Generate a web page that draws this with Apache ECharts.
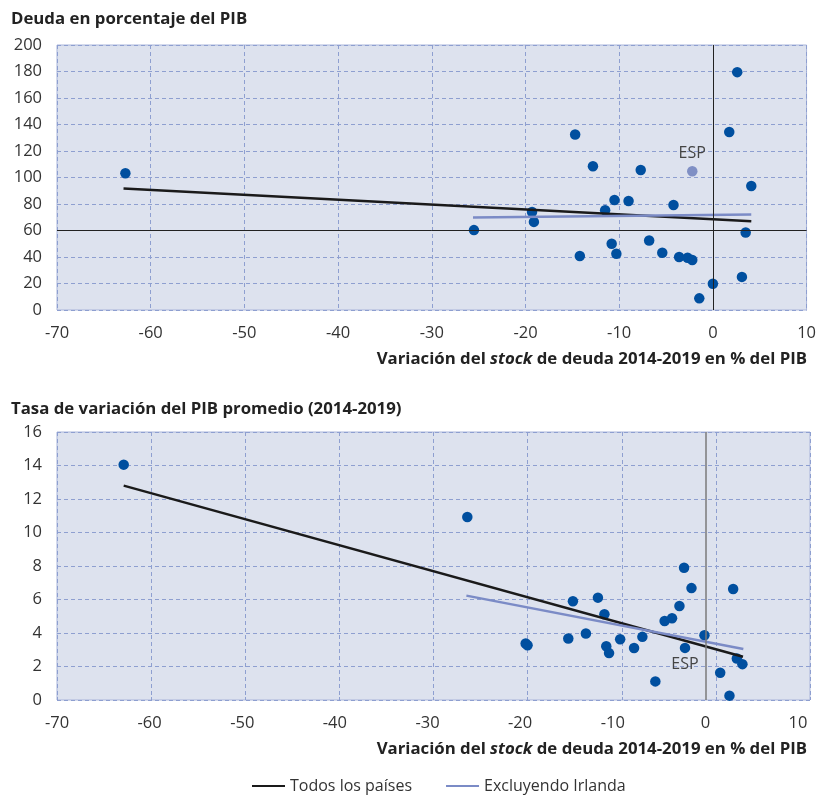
<!DOCTYPE html>
<html><head><meta charset="utf-8">
<script src="https://cdn.jsdelivr.net/npm/echarts@6/dist/echarts.min.js"></script>
<style>html,body{margin:0;padding:0;background:#fff}#c{width:819px;height:796px}</style>
</head><body><div id="c"></div>
<script>
// ---- Data ----
// Top chart: debt stock change (x) vs debt % of GDP (y)
const topX = [-62.7, -25.5, -19.3, -19.1, -14.7, -14.2, -12.8, -11.5, -10.8, -10.5, -10.3, -9.0, -7.7, -6.8, -5.4, -4.2, -3.6, -2.7, -2.2, -1.45, 0.0, 2.6, 1.75, 4.1, 3.5, 3.1];
const topY = [103.2, 60.3, 74.0, 66.5, 132.4, 40.7, 108.5, 75.3, 50.0, 83.0, 42.4, 82.3, 105.7, 52.5, 43.2, 79.3, 40.0, 39.4, 37.7, 8.8, 19.8, 179.5, 134.3, 93.6, 58.5, 25.0];
const espTop = [-2.2, 104.7];
const topTrendAll = [[-62.9, 91.7], [4.1, 67.0]];
const topTrendExIrl = [[-25.6, 69.8], [4.1, 72.1]];
// Bottom chart: debt stock change (x) vs average GDP growth (y)
const botX = [-62.8, -25.7, -19.4, -19.2, -14.8, -14.3, -12.9, -11.6, -10.9, -10.7, -10.4, -9.2, -7.7, -6.8, -5.4, -4.4, -3.6, -2.8, -2.3, -1.5, -0.1, 1.6, 2.6, 3.0, 3.4, 4.0];
const botY = [14.05, 10.93, 3.37, 3.27, 3.67, 5.9, 3.97, 6.11, 5.12, 3.21, 2.8, 3.63, 3.1, 3.77, 1.11, 4.72, 4.88, 5.61, 7.9, 6.68, 3.87, 1.63, 0.26, 6.63, 2.48, 2.14];
const espBot = [-2.2, 3.11];
const botTrendAll = [[-62.8, 12.8], [4.06, 2.58]];
const botTrendExIrl = [[-25.8, 6.23], [4.1, 3.04]];
const xTicks = {min: -70, max: 10, interval: 10};
const topYTicks = {min: 0, max: 200, interval: 20};
const botYTicks = {min: 0, max: 16, interval: 2};
const legendNames = ['Todos los países', 'Excluyendo Irlanda'];
const titles = ['Deuda en porcentaje del PIB', 'Tasa de variación del PIB promedio (2014-2019)'];
const xName = ['Variación del ', 'stock', ' de deuda 2014-2019 en % del PIB'];

// ---- Styles ----
const FONT = '"Open Sans", "Noto Sans", sans-serif';
const PLOT_BG = '#dde2ee';
const GRID_C = '#8e9fd0';
const BORDER_C = '#a9b5da';
const DOT_C = '#004f9f';
const ESP_C = '#7f8fc4';
const BLACK_L = '#1a1a1a';
const BLUE_L = '#7b8bc6';
const BOLD_SIZE = 16.8;

const zip = (xs, ys) => xs.map((x, i) => [x, ys[i]]);
const dashed = {show: true, lineStyle: {color: GRID_C, type: [4, 3], width: 1}};
const lblStyle = {color: '#333', fontSize: 16.5, fontFamily: FONT};
const boldRich = {
  b: {fontSize: BOLD_SIZE, fontWeight: 'bold', color: '#222', fontFamily: FONT},
  i: {fontSize: BOLD_SIZE, fontWeight: 'bold', fontStyle: 'italic', color: '#222', fontFamily: FONT}
};
const xNameText = '{b|' + xName[0] + '}{i|' + xName[1] + '}{b|' + xName[2] + '}';

const chart = echarts.init(document.getElementById('c'), null, {renderer: 'canvas'});

const option = {
  animation: false,
  textStyle: {fontFamily: FONT},
  title: [
    {text: titles[0], left: 6, top: 6, textStyle: {fontSize: BOLD_SIZE, fontWeight: 'bold', color: '#222', fontFamily: FONT}},
    {text: titles[1], left: 6, top: 396, textStyle: {fontSize: BOLD_SIZE, fontWeight: 'bold', color: '#222', fontFamily: FONT}},
    {text: xNameText, right: 7, top: 346, textStyle: {rich: boldRich}},
    {text: xNameText, right: 7, top: 736, textStyle: {rich: boldRich}}
  ],
  legend: {
    top: 773, left: 247, itemWidth: 33, itemHeight: 2, itemGap: 34,
    textStyle: {fontSize: 16, color: '#333', fontFamily: FONT},
    data: [{name: legendNames[0], icon: 'rect'}, {name: legendNames[1], icon: 'rect'}]
  },
  grid: [
    {left: 57, top: 45, width: 754, height: 265, show: true, backgroundColor: PLOT_BG, borderColor: BORDER_C, borderWidth: 1},
    {left: 57, top: 432, width: 753, height: 268, show: true, backgroundColor: PLOT_BG, borderColor: BORDER_C, borderWidth: 1},
    {left: 57, top: 432, width: 741, height: 268, show: false}
  ],
  xAxis: [
    {gridIndex: 0, type: 'value', ...xTicks, axisLine: {show: false}, axisTick: {show: false}, splitLine: dashed,
      axisLabel: {...lblStyle, margin: 15}},
    {gridIndex: 1, type: 'value', ...xTicks, axisLine: {show: false}, axisTick: {show: true, inside: true, length: 3, lineStyle: {color: GRID_C}}, splitLine: dashed,
      axisLabel: {show: false}},
    {gridIndex: 2, type: 'value', ...xTicks, axisLine: {show: false}, axisTick: {show: false}, splitLine: {show: false},
      axisLabel: {...lblStyle, margin: 15}}
  ],
  yAxis: [
    {gridIndex: 0, type: 'value', ...topYTicks, axisLine: {show: false}, axisTick: {show: false}, splitLine: dashed,
      axisLabel: {...lblStyle, margin: 15}},
    {gridIndex: 1, type: 'value', ...botYTicks, axisLine: {show: false}, axisTick: {show: false}, splitLine: dashed,
      axisLabel: {...lblStyle, margin: 15}},
    {gridIndex: 2, type: 'value', ...botYTicks, show: false, splitLine: {show: false}}
  ],
  series: [
    // top chart
    {type: 'scatter', xAxisIndex: 0, yAxisIndex: 0, data: zip(topX, topY), symbolSize: 10.5, itemStyle: {color: DOT_C, opacity: 1}, z: 3,
      markLine: {silent: true, symbol: 'none', label: {show: false}, animation: false,
        lineStyle: {color: '#222', width: 1, type: 'solid'},
        data: [{yAxis: 60}, {xAxis: 0}]}},
    {type: 'scatter', xAxisIndex: 0, yAxisIndex: 0, data: [espTop], symbolSize: 10.5, itemStyle: {color: ESP_C, opacity: 1}, z: 3,
      label: {show: true, formatter: 'ESP', position: 'top', distance: 5, fontSize: 16, color: '#444', fontFamily: FONT}},
    {name: legendNames[0], type: 'line', xAxisIndex: 0, yAxisIndex: 0, data: topTrendAll, showSymbol: false, symbol: 'none',
      lineStyle: {color: BLACK_L, width: 2.5}, itemStyle: {color: BLACK_L}, z: 4},
    {name: legendNames[1], type: 'line', xAxisIndex: 0, yAxisIndex: 0, data: topTrendExIrl, showSymbol: false, symbol: 'none',
      lineStyle: {color: BLUE_L, width: 2.5}, itemStyle: {color: BLUE_L}, z: 4},
    // bottom chart
    {type: 'scatter', xAxisIndex: 2, yAxisIndex: 2, data: zip(botX, botY), symbolSize: 10.5, itemStyle: {color: DOT_C, opacity: 1}, z: 3,
      markLine: {silent: true, symbol: 'none', label: {show: false}, animation: false,
        lineStyle: {color: '#7a7a7a', width: 1.5, type: 'solid'},
        data: [{xAxis: 0}]}},
    {type: 'scatter', xAxisIndex: 2, yAxisIndex: 2, data: [espBot], symbolSize: 10.5, itemStyle: {color: DOT_C, opacity: 1}, z: 3,
      label: {show: true, formatter: 'ESP', position: 'bottom', distance: 3, fontSize: 16, color: '#444', fontFamily: FONT}},
    {name: legendNames[0], type: 'line', xAxisIndex: 2, yAxisIndex: 2, data: botTrendAll, showSymbol: false, symbol: 'none',
      lineStyle: {color: BLACK_L, width: 2.5}, itemStyle: {color: BLACK_L}, z: 4},
    {name: legendNames[1], type: 'line', xAxisIndex: 2, yAxisIndex: 2, data: botTrendExIrl, showSymbol: false, symbol: 'none',
      lineStyle: {color: BLUE_L, width: 2.5}, itemStyle: {color: BLUE_L}, z: 4}
  ]
};
chart.setOption(option);
</script></body></html>
